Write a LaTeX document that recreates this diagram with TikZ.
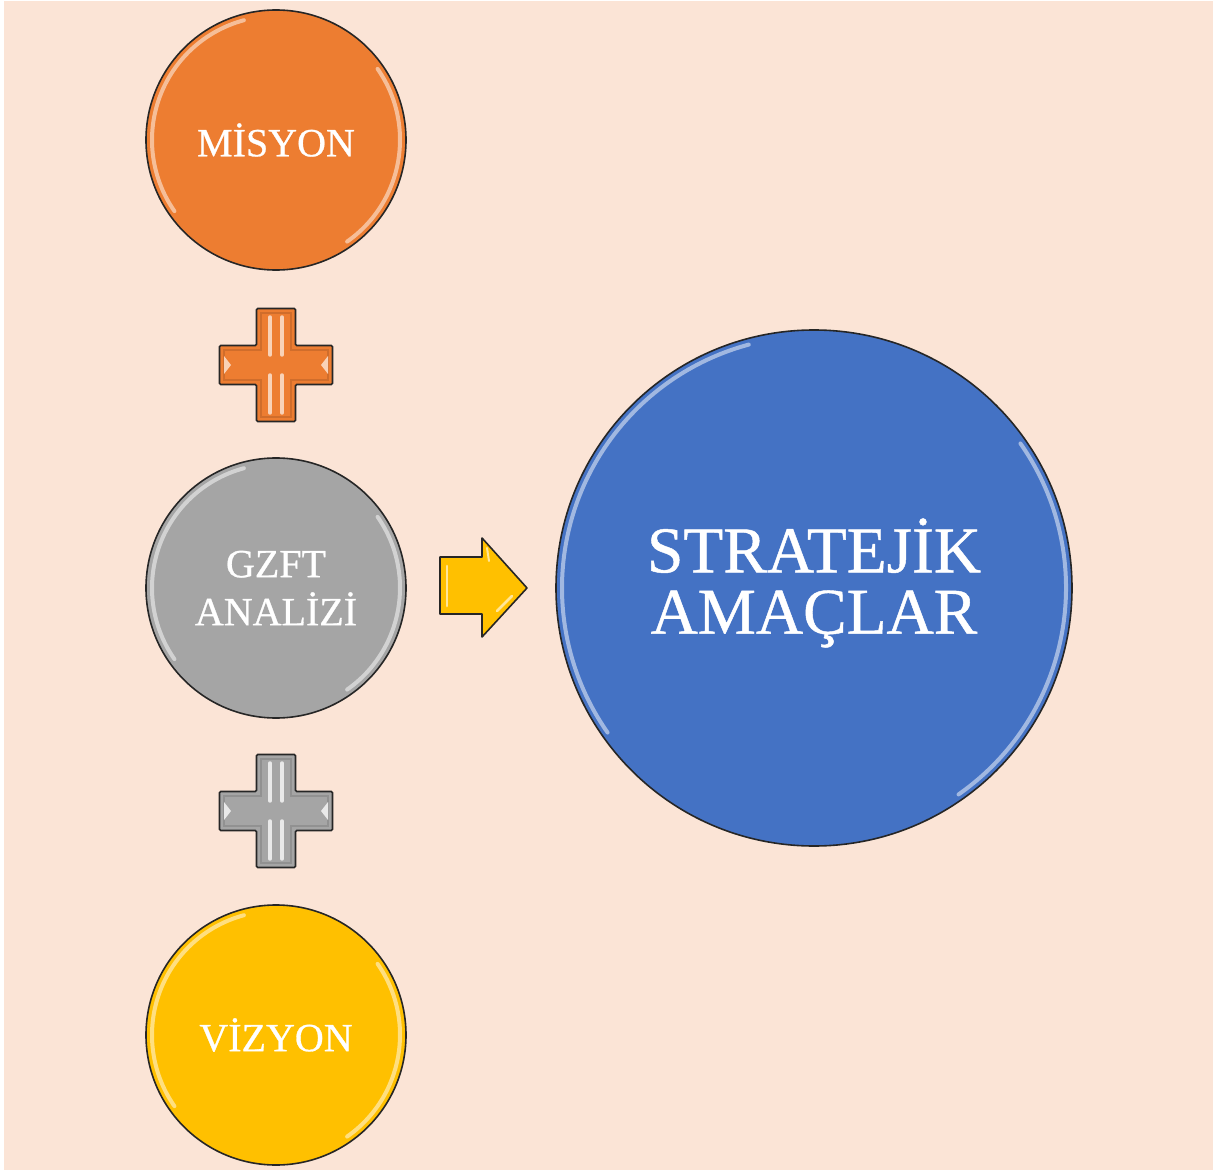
\documentclass[tikz,border=0pt]{standalone}
\usepackage{fontspec}
\setmainfont{Liberation Serif}
\newfontfamily\heavyserif[FakeBold=0.7]{Liberation Serif}
\definecolor{bg}{HTML}{FBE4D6}
\definecolor{cmis}{HTML}{ED7D31}
\definecolor{cgzft}{HTML}{A5A5A5}
\definecolor{cviz}{HTML}{FFC000}
\definecolor{cstr}{HTML}{4472C4}
\definecolor{edge}{HTML}{262626}
\newcommand\drawplus[3]{%
  \begin{scope}[shift={(#1)}]
    \filldraw[fill=#2, draw=edge, line width=1.2pt, rounded corners=1pt]
      (-19.5,-56.5) -- (19.5,-56.5) -- (19.5,-19.5) -- (56.5,-19.5) -- (56.5,19.5)
      -- (19.5,19.5) -- (19.5,56.5) -- (-19.5,56.5) -- (-19.5,19.5) -- (-56.5,19.5)
      -- (-56.5,-19.5) -- (-19.5,-19.5) -- cycle;
    \draw[#2!70!black, opacity=.4, line width=1pt]
      (-15,-52) -- (15,-52) -- (15,-15) -- (52,-15) -- (52,15) -- (15,15) -- (15,52)
      -- (-15,52) -- (-15,15) -- (-52,15) -- (-52,-15) -- (-15,-15) -- cycle;
    \draw[#3, line width=2.6pt, line cap=round] (-6,-48) -- (-6,-10) (6,-48) -- (6,-10)
      (-6,10) -- (-6,48) (6,10) -- (6,48);
    \fill[#3] (-52,-9) -- (-45,0) -- (-52,9) -- cycle;
    \fill[#3] (52,-9) -- (45,0) -- (52,9) -- cycle;
  \end{scope}}
\begin{document}
\begin{tikzpicture}[x=0.75pt, y=-0.75pt,
  ball/.style={circle, draw=edge, line width=1.2pt, inner sep=0pt,
    minimum size=195pt, text=white, align=center,
    font=\heavyserif\fontsize{30}{36}\selectfont},
  bigball/.style={ball, minimum size=387pt},
  bigtext/.style={text=white, align=center, inner sep=0pt,
    font=\heavyserif\fontsize{49}{46}\selectfont},
  gloss/.style={white, opacity=.5, line width=3pt, line cap=round}]
\fill[white] (0,0) rectangle (1218,1173);
\fill[bg] (4,1) rectangle (1213,1170);
\useasboundingbox (0,0) rectangle (1218,1173);

\node[ball, fill=cmis] (misyon) at (276,140) {MİSYON};
\node[ball, fill=cgzft] (gzft) at (276,588) {GZFT\\ANALİZİ};
\node[ball, fill=cviz] (vizyon) at (276,1035) {VİZYON};
\node[bigball, fill=cstr] (strat) at (814,588) {};
\node[bigtext] (stratlbl) at (814,583) {STRATEJİK\\AMAÇLAR};

\foreach \n in {misyon,gzft,vizyon}{
  \draw[gloss] (\n.center) ++(105:93pt) arc[start angle=105, end angle=215, radius=93pt];
  \draw[gloss] (\n.center) ++(-55:93pt) arc[start angle=-55, end angle=35, radius=93pt];
}
\draw[gloss] (strat.center) ++(105:189pt) arc[start angle=105, end angle=215, radius=189pt];
\draw[gloss] (strat.center) ++(-55:189pt) arc[start angle=-55, end angle=35, radius=189pt];

\drawplus{276,365}{cmis}{cmis!35!white}
\drawplus{276,811}{cgzft}{cgzft!25!white}

\filldraw[fill=cviz, draw=edge, line width=1.2pt, line join=round]
  (440,557) -- (482,557) -- (482,538) -- (527,588) -- (482,637) -- (482,614)
  -- (440,614) -- cycle;
\draw[cviz!40!white, line width=2pt, line cap=round] (447,566) -- (447,606);
\draw[cviz!40!white, line width=2pt, line cap=round] (497,611) -- (512,596);
\draw[cviz!40!white, line width=1.5pt, line cap=round] (487,548) -- (489,561);
\end{tikzpicture}
\end{document}
